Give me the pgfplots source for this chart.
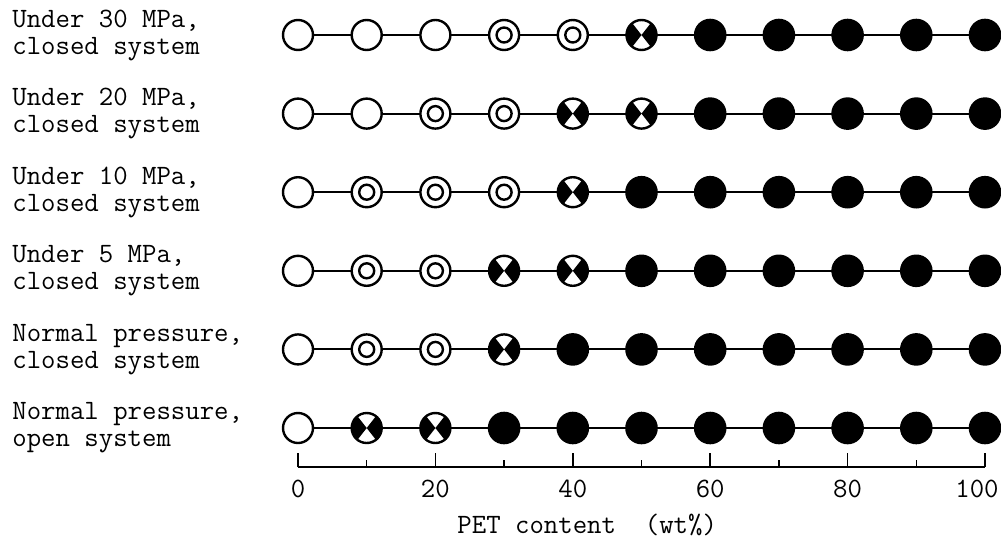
\documentclass[border=0pt]{standalone}
\usepackage{fontspec}
\usepackage{pgfplots}
\pgfplotsset{compat=1.18}

\pgfdeclareplotmark{dcirc}{%
  \pgfpathcircle{\pgfpointorigin}{\pgfplotmarksize}%
  \pgfusepathqfillstroke
  \pgfpathcircle{\pgfpointorigin}{0.5\pgfplotmarksize}%
  \pgfusepathqstroke
}
\pgfdeclareplotmark{xcirc}{%
  \begin{pgfscope}%
  \pgfsetfillcolor{white}%
  \pgfpathcircle{\pgfpointorigin}{\pgfplotmarksize}%
  \pgfusepathqfill
  \pgfsetfillcolor{black}%
  \pgfpathmoveto{\pgfpointorigin}%
  \pgfpathlineto{\pgfpointpolar{128}{\pgfplotmarksize}}%
  \pgfpatharc{128}{232}{\pgfplotmarksize}%
  \pgfpathclose
  \pgfpathmoveto{\pgfpointorigin}%
  \pgfpathlineto{\pgfpointpolar{-52}{\pgfplotmarksize}}%
  \pgfpatharc{-52}{52}{\pgfplotmarksize}%
  \pgfpathclose
  \pgfusepathqfill
  \end{pgfscope}%
  \pgfpathcircle{\pgfpointorigin}{\pgfplotmarksize}%
  \pgfusepathqstroke
}

\newcommand{\lblfont}{\ttfamily\fontsize{14}{13.5}\selectfont}

\begin{document}
\begin{tikzpicture}
\useasboundingbox (-149pt,-35.35pt) rectangle (351.5pt,233.65pt);
\begin{axis}[
  x=3.435pt, y=39.3pt,
  xmin=0, xmax=100, ymin=0.5, ymax=6.4,
  axis x line=bottom, axis y line=none,
  x axis line style={-, line width=1pt},
  xtick={0,20,...,100}, minor xtick={10,30,...,90},
  xticklabels={0,20,40,60,80,{\hspace*{-8pt}100}},
  tick align=inside,
  major tick length=7pt, minor tick length=3.5pt,
  every tick/.style={black, line width=0.8pt},
  ytick=\empty,
  clip=false,
  ticklabel style={font=\lblfont, yshift=-3pt},
  /pgf/number format/assume math mode=true,
]
% connecting lines (one per condition)
\addplot[black, line width=1pt] coordinates {(0,6)(100,6)};
\addplot[black, line width=1pt] coordinates {(0,5)(100,5)};
\addplot[black, line width=1pt] coordinates {(0,4)(100,4)};
\addplot[black, line width=1pt] coordinates {(0,3)(100,3)};
\addplot[black, line width=1pt] coordinates {(0,2)(100,2)};
\addplot[black, line width=1pt] coordinates {(0,1)(100,1)};
% open circles
\addplot[only marks, mark=*, mark size=7.5pt, mark options={draw=black, fill=white, line width=1.2pt}]
  coordinates {(0,6)(10,6)(20,6)(0,5)(10,5)(0,4)(0,3)(0,2)(0,1)};
% double circles
\addplot[only marks, mark=dcirc, mark size=7.5pt, mark options={draw=black, fill=white, line width=1.2pt}]
  coordinates {(30,6)(40,6)(20,5)(30,5)(10,4)(20,4)(30,4)(10,3)(20,3)(10,2)(20,2)};
% crossed circles
\addplot[only marks, mark=xcirc, mark size=7.5pt, mark options={draw=black, fill=white, line width=1.2pt}]
  coordinates {(50,6)(40,5)(50,5)(40,4)(30,3)(40,3)(30,2)(10,1)(20,1)};
% filled circles
\addplot[only marks, mark=*, mark size=7.75pt, mark options={draw=black, fill=black, line width=0.8pt}]
  coordinates {(60,6)(70,6)(80,6)(90,6)(100,6)
               (60,5)(70,5)(80,5)(90,5)(100,5)
               (50,4)(60,4)(70,4)(80,4)(90,4)(100,4)
               (50,3)(60,3)(70,3)(80,3)(90,3)(100,3)
               (40,2)(50,2)(60,2)(70,2)(80,2)(90,2)(100,2)
               (30,1)(40,1)(50,1)(60,1)(70,1)(80,1)(90,1)(100,1)};
% row labels
\node[anchor=west, inner sep=0pt, align=left, font=\lblfont, xshift=-143pt] at (axis cs:0,6) {Under 30 MPa,\\closed system};
\node[anchor=west, inner sep=0pt, align=left, font=\lblfont, xshift=-143pt] at (axis cs:0,5) {Under 20 MPa,\\closed system};
\node[anchor=west, inner sep=0pt, align=left, font=\lblfont, xshift=-143pt] at (axis cs:0,4) {Under 10 MPa,\\closed system};
\node[anchor=west, inner sep=0pt, align=left, font=\lblfont, xshift=-143pt] at (axis cs:0,3) {Under 5 MPa,\\closed system};
\node[anchor=west, inner sep=0pt, align=left, font=\lblfont, xshift=-143pt] at (axis cs:0,2) {Normal pressure,\\closed system};
\node[anchor=west, inner sep=0pt, align=left, font=\lblfont, xshift=-143pt] at (axis cs:0,1) {Normal pressure,\\open system};
% axis title
\node[font=\lblfont, yshift=-28.9pt] at (axis cs:42.1,0.5) {PET content\ \ (wt\%)};
\end{axis}
\end{tikzpicture}
\end{document}
